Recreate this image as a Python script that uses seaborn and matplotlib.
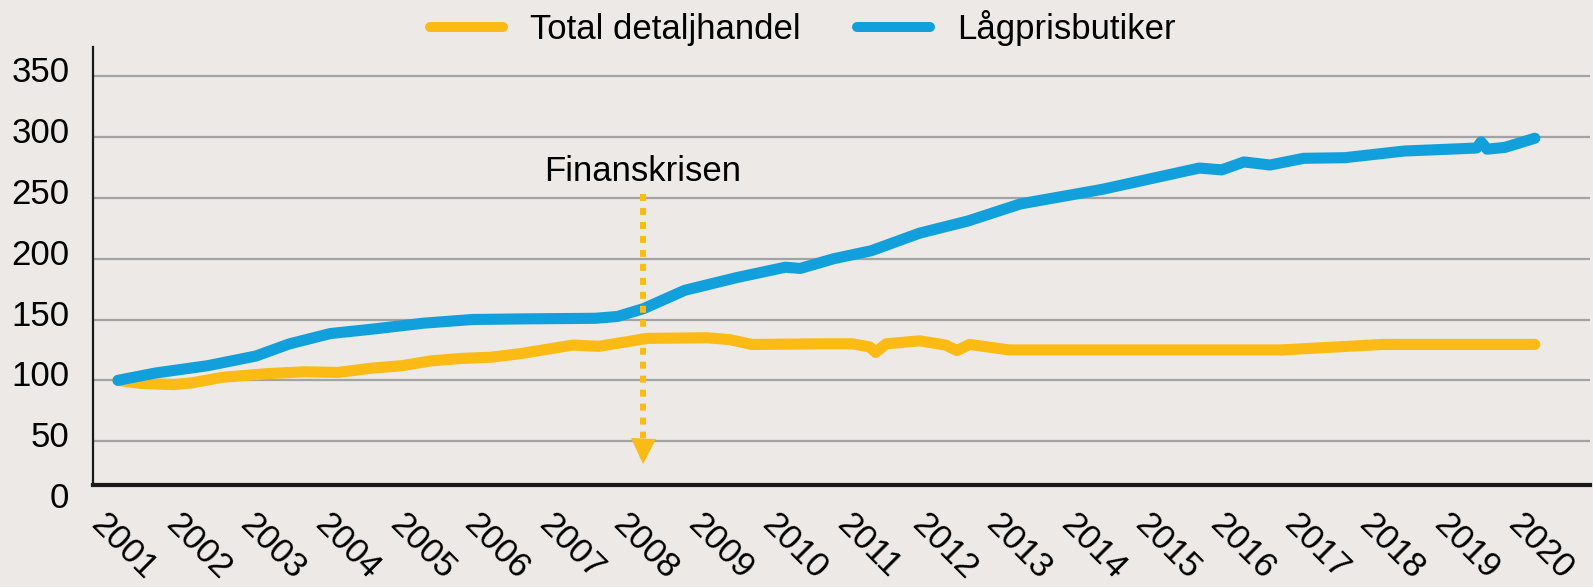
import numpy as np
import pandas as pd
import matplotlib
matplotlib.use("Agg")
import matplotlib.pyplot as plt
import matplotlib.transforms as mtransforms
import seaborn as sns

# ---------------- data ----------------
series_names = ["Total detaljhandel", "Lågprisbutiker"]

total_years = [2001.0, 2001.3, 2001.75, 2002.0, 2002.4, 2003.0, 2003.5, 2003.95, 2004.4,
               2004.8, 2005.2, 2005.6, 2006.0, 2006.4, 2006.8, 2007.1, 2007.45, 2007.8,
               2008.1, 2008.9, 2009.2, 2009.5, 2010.4,
               2010.85, 2011.08, 2011.16, 2011.3, 2011.75, 2012.1, 2012.25, 2012.42,
               2012.95, 2016.6, 2017.96, 2020.0]
total_values = [100, 97.5, 96.5, 98, 102.5, 105.5, 107, 106.5, 110,
                112, 116, 118, 119, 122, 126, 129, 128, 131.5,
                134.5, 135, 133.5, 129.5, 130,
                130, 127.5, 123, 130, 132.5, 129, 124.5, 129.5,
                125, 125, 129.5, 129.5]

low_years = [2001.0, 2001.5, 2002.2, 2002.85, 2003.3, 2003.85, 2004.4, 2005.1,
             2005.75, 2006.4, 2007.4, 2007.7, 2008.05, 2008.6, 2009.3, 2009.95, 2010.15,
             2010.6, 2011.1, 2011.75, 2012.4, 2013.1, 2014.2, 2015.5, 2015.8,
             2016.1, 2016.45, 2016.9, 2017.45, 2018.25, 2019.05, 2019.22, 2019.28,
             2019.36, 2019.6, 2020.0]
low_values = [100, 106, 112, 120, 130, 138.5, 142, 147,
              150, 150.5, 151, 152.5, 159, 174, 184.5, 193, 192,
              200, 206.5, 221, 231, 245, 257, 274.5, 273,
              279.5, 277, 282.5, 283, 288.5, 290.5, 291, 296,
              290, 291.5, 299]

year_ticks = list(range(2001, 2021))
y_ticks = [0, 50, 100, 150, 200, 250, 300, 350]

crisis_label = "Finanskrisen"
crisis_year = 2008.04
crisis_text_y = 264
crisis_line_top = 253
crisis_line_bottom = 53
crisis_head_y = 42

# ---------------- style ----------------
BG = "#ECE9E7"
YELLOW = "#FBBA14"
BLUE = "#11A0DC"
GRID = "#A3A3A3"
TXT = "#000000"

sns.set_theme(style="white")
plt.rcParams["font.family"] = ["Liberation Sans", "DejaVu Sans"]
plt.rcParams["font.size"] = 25

df = pd.concat([
    pd.DataFrame({"year": total_years, "value": total_values, "serie": series_names[0]}),
    pd.DataFrame({"year": low_years, "value": low_values, "serie": series_names[1]}),
], ignore_index=True)

fig = plt.figure(figsize=(15.93, 5.87), dpi=100, facecolor=BG)
ax = fig.add_axes([93 / 1593, 1 - 502 / 587, (1590 - 93) / 1593, (502 - 47) / 587])
ax.set_facecolor(BG)

sns.lineplot(data=df, x="year", y="value", hue="serie", palette=[YELLOW, BLUE],
             estimator=None, sort=False, linewidth=8, legend=False, ax=ax)
for ln in ax.get_lines():
    ln.set_solid_capstyle("round")
    ln.set_solid_joinstyle("round")

ax.set_xlim(2000.665, 2020.74)
ax.set_ylim(0, 374)
ax.set_xlabel("")
ax.set_ylabel("")

# grid
ax.set_yticks(y_ticks)
ax.yaxis.grid(True, color=GRID, linewidth=1.6)
ax.xaxis.grid(False)
ax.set_axisbelow(True)
ax.yaxis.get_gridlines()[0].set_visible(False)

# spines
for s in ["top", "right"]:
    ax.spines[s].set_visible(False)
ax.spines["bottom"].set_position(("data", 14))
ax.spines["bottom"].set_color("#1a1a1a")
ax.spines["bottom"].set_linewidth(3)
ax.spines["left"].set_color("#1a1a1a")
ax.spines["left"].set_linewidth(1.6)
ax.spines["left"].set_bounds(14, 374)

ax.tick_params(axis="both", length=0, labelsize=25, colors=TXT)
ax.tick_params(axis="y", pad=17)
ax.tick_params(axis="x", pad=16)
ax.set_yticklabels([str(v) for v in y_ticks])
off_y = mtransforms.ScaledTranslation(0, 7 / 100, fig.dpi_scale_trans)
for lab in ax.get_yticklabels():
    lab.set_transform(lab.get_transform() + off_y)

ax.set_xticks(year_ticks)
ax.set_xticklabels([str(y) for y in year_ticks], rotation=-45, ha="left", va="top",
                   rotation_mode="anchor")
off_x = mtransforms.ScaledTranslation(-10 / 100, 0, fig.dpi_scale_trans)
for lab in ax.get_xticklabels():
    lab.set_transform(lab.get_transform() + off_x)

# crisis annotation
ax.plot([crisis_year, crisis_year], [crisis_line_top, crisis_line_bottom], color=YELLOW,
        linewidth=4.3, linestyle=(0, (1.17, 1.17)), dash_capstyle="butt")
ax.plot([crisis_year], [crisis_head_y], marker="v", markersize=18, color=YELLOW,
        markeredgewidth=0, linestyle="none")
ax.text(crisis_year, crisis_text_y, crisis_label, ha="center", va="baseline",
        fontsize=25, color=TXT)

# legend
handles = ax.get_lines()[:2]
leg = fig.legend(handles, series_names, loc="center", bbox_to_anchor=(0.504, 1 - 28 / 587),
                 ncol=2, frameon=False, fontsize=25, handlelength=2.1, handletextpad=0.8,
                 columnspacing=1.6, labelcolor=TXT)
for h in leg.get_lines():
    h.set_linewidth(7.2)
    h.set_solid_capstyle("round")

fig.savefig("out.png", dpi=100, facecolor=BG)
